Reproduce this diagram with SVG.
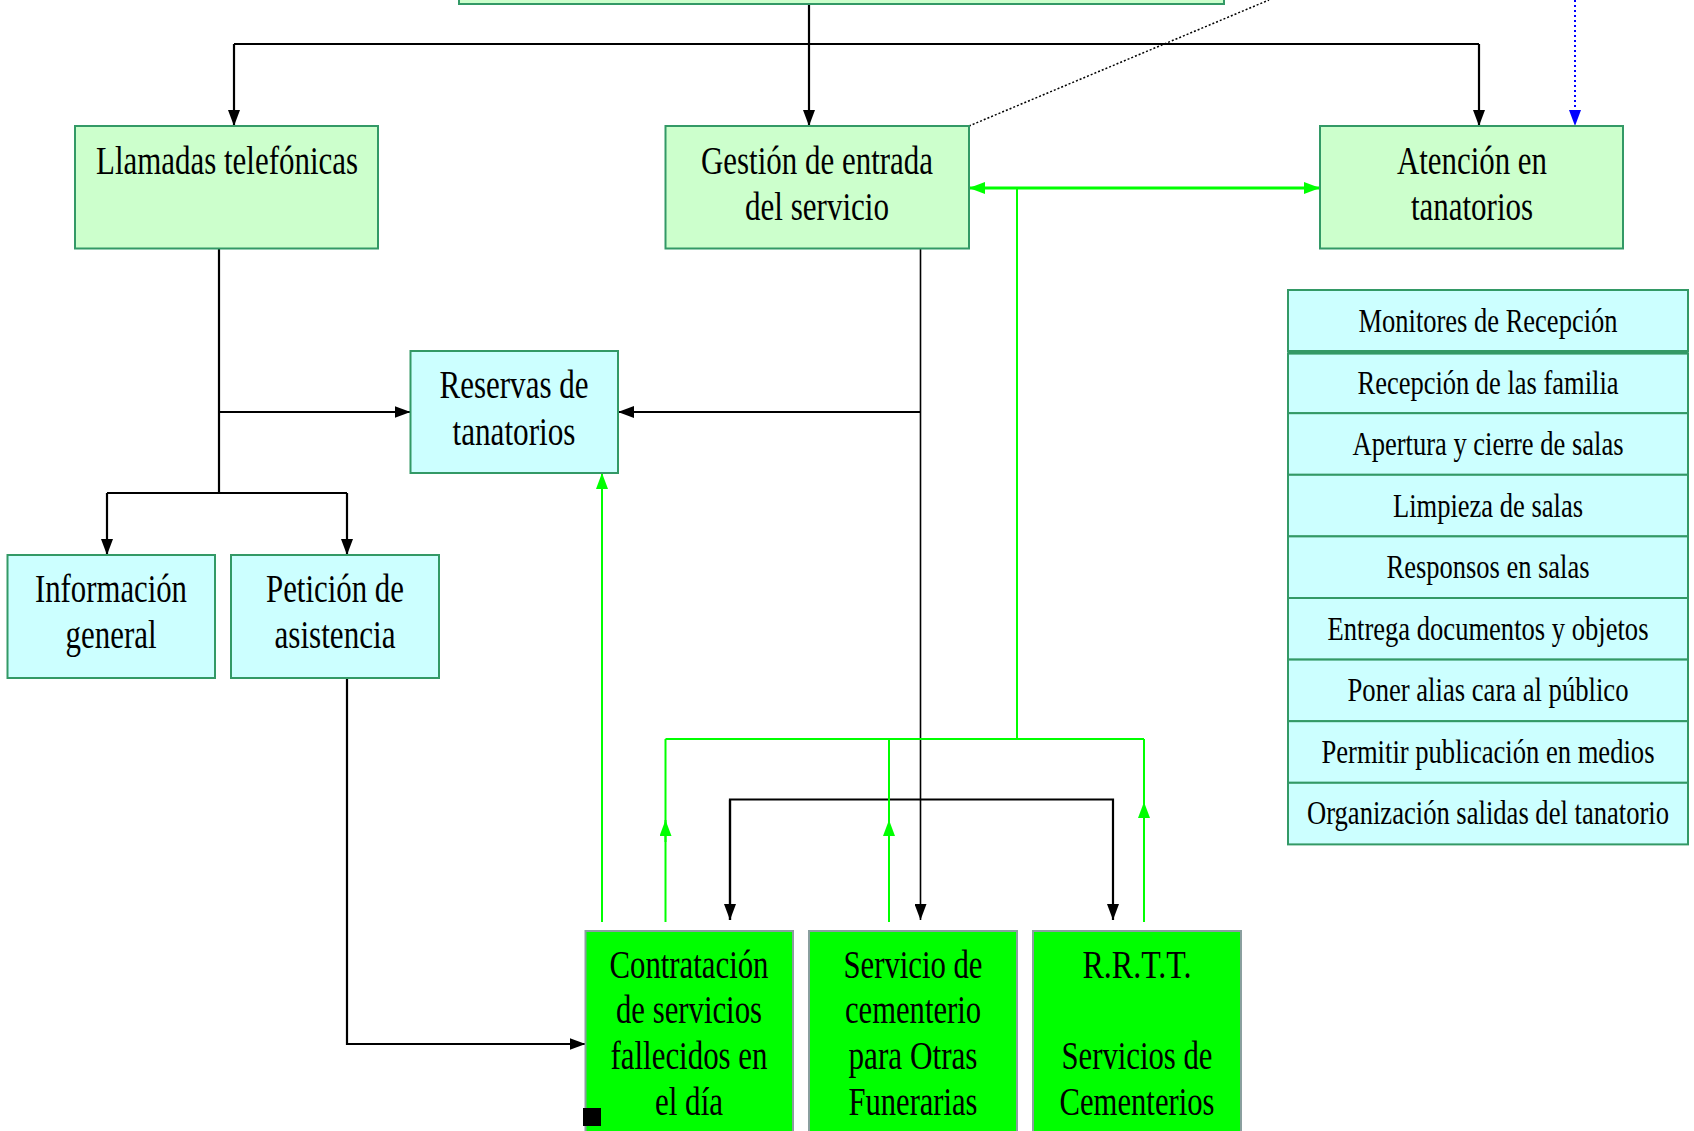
<svg xmlns="http://www.w3.org/2000/svg" width="1694" height="1131" viewBox="0 0 1694 1131">
<style>
.t{font-family:"Liberation Serif","Times New Roman",serif;font-size:40px;fill:#000;text-anchor:middle}
.s{font-family:"Liberation Serif","Times New Roman",serif;font-size:33px;fill:#000;text-anchor:middle}
.g1{fill:#CCFFCC;stroke:#339966;stroke-width:2}
.c1{fill:#CCFFFF;stroke:#339966;stroke-width:2}
.g2{fill:#00FF00;stroke:#8a9f9f;stroke-width:2}
.bk{fill:none;stroke:#000;stroke-width:2.2}
.bkt{fill:none;stroke:#000;stroke-width:1.6}
.gr{fill:none;stroke:#00FF00;stroke-width:2}
.grt{fill:none;stroke:#00FF00;stroke-width:3}
</style>
<defs>
<marker id="ab" markerUnits="userSpaceOnUse" markerWidth="16" markerHeight="12" refX="16" refY="6" orient="auto"><path d="M0,0 L16,6 L0,12 z" fill="#000"/></marker>
<marker id="ag" markerUnits="userSpaceOnUse" markerWidth="16" markerHeight="12" refX="16" refY="6" orient="auto"><path d="M0,0 L16,6 L0,12 z" fill="#00FF00"/></marker>
<marker id="ags" markerUnits="userSpaceOnUse" markerWidth="16" markerHeight="12" refX="0" refY="6" orient="auto"><path d="M16,0 L0,6 L16,12 z" fill="#00FF00"/></marker>
<marker id="au" markerUnits="userSpaceOnUse" markerWidth="16" markerHeight="12" refX="16" refY="6" orient="auto"><path d="M0,0 L16,6 L0,12 z" fill="#0000FF"/></marker>
</defs>
<rect width="1694" height="1131" fill="#fff"/>

<g id="connectors">
  <path class="bk" d="M809,4 V126" marker-end="url(#ab)"/>
  <path class="bk" stroke-width="2.6" d="M234,44 H1479"/>
  <path class="bk" d="M234,44 V126" marker-end="url(#ab)"/>
  <path class="bk" d="M1479,44 V126" marker-end="url(#ab)"/>
  <path fill="none" stroke="#000" stroke-width="1.5" stroke-dasharray="2,2" d="M969,126 L1269,0"/>
  <path fill="none" stroke="#0000FF" stroke-width="2" stroke-dasharray="2,3" d="M1575,0 V126" marker-end="url(#au)"/>
  <path class="bk" d="M219,248.5 V493"/>
  <path class="bk" d="M219,412 H410.5" marker-end="url(#ab)"/>
  <path class="bk" d="M107,493 H347"/>
  <path class="bk" d="M107,493 V555" marker-end="url(#ab)"/>
  <path class="bk" d="M347,493 V555" marker-end="url(#ab)"/>
  <path class="bk" d="M347,678 V1044 H585.5" marker-end="url(#ab)"/>
  <path class="bkt" d="M920.5,248.5 V920" marker-end="url(#ab)"/>
  <path class="bk" d="M920.5,412 H618" marker-end="url(#ab)"/>
  <path class="bk" d="M730,920 V799.5 H1113 V920" marker-end="url(#ab)"/>
  <path class="bk" d="M730,800 V920" marker-end="url(#ab)"/>
  <path class="grt" d="M969,188 H1320" marker-start="url(#ags)" marker-end="url(#ag)"/>
  <path class="gr" d="M1017,188 V739"/>
  <path class="gr" d="M665.5,739 H1144"/>
  <path class="gr" d="M665.5,922 V739"/>
  <path class="gr" d="M889,922 V739"/>
  <path class="gr" d="M1144,922 V739"/>
  <path class="gr" d="M665.5,842 V820" marker-end="url(#ag)"/>
  <path class="gr" d="M889,842 V820" marker-end="url(#ag)"/>
  <path class="gr" d="M1144,824 V802" marker-end="url(#ag)"/>
  <path class="gr" d="M602,922 V473" marker-end="url(#ag)"/>
</g>

<g id="top-box"><rect class="g1" x="459" y="-40" width="765" height="44"/></g>

<g id="llamadas">
  <rect class="g1" x="75" y="126" width="303" height="122.5"/>
  <text class="t" x="227" y="174" textLength="262" lengthAdjust="spacingAndGlyphs">Llamadas telefónicas</text>
</g>
<g id="gestion">
  <rect class="g1" x="665.5" y="126" width="303.5" height="122.5"/>
  <text class="t" x="817" y="174" textLength="232" lengthAdjust="spacingAndGlyphs">Gestión de entrada</text>
  <text class="t" x="817" y="220" textLength="144" lengthAdjust="spacingAndGlyphs">del servicio</text>
</g>
<g id="atencion">
  <rect class="g1" x="1320" y="126" width="303" height="122.5"/>
  <text class="t" x="1472" y="174" textLength="150" lengthAdjust="spacingAndGlyphs">Atención en</text>
  <text class="t" x="1472" y="220" textLength="122" lengthAdjust="spacingAndGlyphs">tanatorios</text>
</g>
<g id="reservas">
  <rect class="c1" x="410.5" y="351" width="207.5" height="122"/>
  <text class="t" x="514" y="398" textLength="149" lengthAdjust="spacingAndGlyphs">Reservas de</text>
  <text class="t" x="514" y="445" textLength="123" lengthAdjust="spacingAndGlyphs">tanatorios</text>
</g>
<g id="informacion">
  <rect class="c1" x="7.5" y="555" width="207.5" height="123"/>
  <text class="t" x="111" y="602" textLength="152" lengthAdjust="spacingAndGlyphs">Información</text>
  <text class="t" x="111" y="648" textLength="91" lengthAdjust="spacingAndGlyphs">general</text>
</g>
<g id="peticion">
  <rect class="c1" x="231" y="555" width="208" height="123"/>
  <text class="t" x="335" y="602" textLength="138" lengthAdjust="spacingAndGlyphs">Petición de</text>
  <text class="t" x="335" y="648" textLength="121" lengthAdjust="spacingAndGlyphs">asistencia</text>
</g>

<g id="contratacion">
  <rect class="g2" x="585.5" y="931" width="207.5" height="220"/>
  <text class="t" x="689" y="978" textLength="159" lengthAdjust="spacingAndGlyphs">Contratación</text>
  <text class="t" x="689" y="1023" textLength="146" lengthAdjust="spacingAndGlyphs">de servicios</text>
  <text class="t" x="689" y="1069" textLength="157" lengthAdjust="spacingAndGlyphs">fallecidos en</text>
  <text class="t" x="689" y="1115" textLength="68" lengthAdjust="spacingAndGlyphs">el día</text>
  <rect x="583" y="1108" width="18" height="18" fill="#000"/>
</g>
<g id="servicio-cementerio">
  <rect class="g2" x="809" y="931" width="208" height="220"/>
  <text class="t" x="913" y="978" textLength="139" lengthAdjust="spacingAndGlyphs">Servicio de</text>
  <text class="t" x="913" y="1023" textLength="136" lengthAdjust="spacingAndGlyphs">cementerio</text>
  <text class="t" x="913" y="1069" textLength="129" lengthAdjust="spacingAndGlyphs">para Otras</text>
  <text class="t" x="913" y="1115" textLength="129" lengthAdjust="spacingAndGlyphs">Funerarias</text>
</g>
<g id="rrtt">
  <rect class="g2" x="1033" y="931" width="208" height="220"/>
  <text class="t" x="1137" y="978" textLength="109" lengthAdjust="spacingAndGlyphs">R.R.T.T.</text>
  <text class="t" x="1137" y="1069" textLength="151" lengthAdjust="spacingAndGlyphs">Servicios de</text>
  <text class="t" x="1137" y="1115" textLength="155" lengthAdjust="spacingAndGlyphs">Cementerios</text>
</g>

<g id="lista-atencion">
  <rect class="c1" x="1288" y="290" width="400" height="61.6"/>
  <rect class="c1" x="1288" y="353.6" width="400" height="59.6"/>
  <rect class="c1" x="1288" y="413.2" width="400" height="61.6"/>
  <rect class="c1" x="1288" y="474.8" width="400" height="61.6"/>
  <rect class="c1" x="1288" y="536.4" width="400" height="61.6"/>
  <rect class="c1" x="1288" y="598" width="400" height="61.6"/>
  <rect class="c1" x="1288" y="659.6" width="400" height="61.6"/>
  <rect class="c1" x="1288" y="721.2" width="400" height="61.6"/>
  <rect class="c1" x="1288" y="782.8" width="400" height="61.6"/>
  <line x1="1288" y1="351.6" x2="1688" y2="351.6" stroke="#339966" stroke-width="3"/>
  <text class="s" x="1488" y="332" textLength="259" lengthAdjust="spacingAndGlyphs">Monitores de Recepción</text>
  <text class="s" x="1488" y="394" textLength="261" lengthAdjust="spacingAndGlyphs">Recepción de las familia</text>
  <text class="s" x="1488" y="455" textLength="271" lengthAdjust="spacingAndGlyphs">Apertura y cierre de salas</text>
  <text class="s" x="1488" y="517" textLength="190" lengthAdjust="spacingAndGlyphs">Limpieza de salas</text>
  <text class="s" x="1488" y="578" textLength="203" lengthAdjust="spacingAndGlyphs">Responsos en salas</text>
  <text class="s" x="1488" y="640" textLength="321" lengthAdjust="spacingAndGlyphs">Entrega documentos y objetos</text>
  <text class="s" x="1488" y="701" textLength="281" lengthAdjust="spacingAndGlyphs">Poner alias cara al público</text>
  <text class="s" x="1488" y="763" textLength="333" lengthAdjust="spacingAndGlyphs">Permitir publicación en medios</text>
  <text class="s" x="1488" y="824" textLength="362" lengthAdjust="spacingAndGlyphs">Organización salidas del tanatorio</text>
</g>
</svg>
